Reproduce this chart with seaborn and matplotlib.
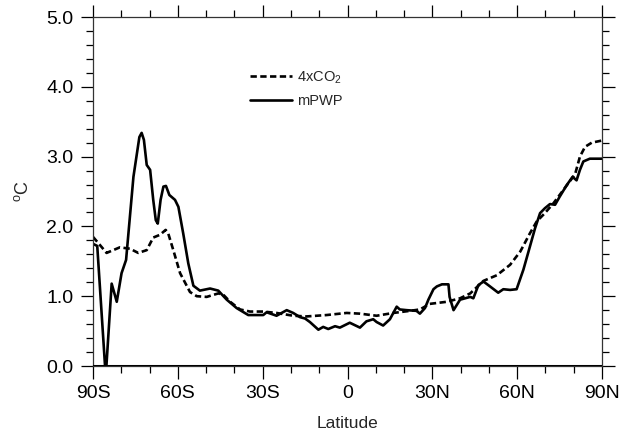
"""
Zonal mean surface temperature change - 4xCO2 vs mPWP
"""

import numpy as np
import pandas as pd
import matplotlib
matplotlib.use("Agg")
import matplotlib.pyplot as plt
from matplotlib.ticker import MultipleLocator
import seaborn as sns

# ==================== DATA ====================

# 4xCO2 (dashed)
co2_lat = [-90, -88.1, -85.2, -80.5, -76.9, -74, -71, -68.7, -66.3, -64.3, -63.4,
           -61.6, -59.2, -55.7, -53.3, -49.8, -45.7, -43.9, -41.5, -38, -34.5,
           -29.8, -25.1, -19.2, -14.5, -7.4, -0.3, 4.4, 10.3, 16.2, 22.1, 25.6,
           29.1, 35.1, 39.8, 43.4, 48.1, 52.8, 57.5, 61.1, 64.5, 66.9, 69.8,
           72.8, 76.3, 80.5, 82.2, 84, 86.4, 90]
co2_val = [1.85, 1.76, 1.62, 1.70, 1.68, 1.62, 1.66, 1.84, 1.88, 1.95, 1.90,
           1.66, 1.33, 1.06, 1.00, 0.99, 1.04, 1.02, 0.92, 0.81, 0.78,
           0.78, 0.76, 0.72, 0.71, 0.73, 0.76, 0.75, 0.72, 0.76, 0.79, 0.81,
           0.89, 0.92, 0.97, 1.04, 1.22, 1.30, 1.45, 1.64, 1.90, 2.07, 2.19,
           2.33, 2.52, 2.75, 3.00, 3.14, 3.20, 3.23]

# mPWP (solid)
pwp_lat = [-90, -88.5, -85.5, -83.4, -81.6, -79.9, -78.3, -75.7, -73.6, -72.8,
           -72, -71, -69.8, -68.7, -67.8, -67.1, -66.1, -65.1, -64.2, -63, -61,
           -59.8, -58.1, -56.3, -54.5, -52.2, -48.6, -45.7, -42.7, -39.2, -35.1,
           -29.8, -28.6, -25.1, -21.5, -19.2, -16.8, -15, -13.3, -10.3, -8.6,
           -6.8, -4.4, -2.7, 0.8, 4.4, 6.7, 9.1, 10.3, 12.6, 15, 17.4, 18.5,
           20.9, 24.4, 25.6, 27.4, 28.6, 30.4, 31.6, 33.4, 35.7, 36.1, 37.5,
           39.8, 43.4, 44.5, 46.3, 48.1, 50.4, 53.3, 55.1, 57.5, 59.8, 62.2,
           64.5, 66.3, 68.1, 69.8, 71.6, 73.4, 75.1, 77.5, 79.6, 81, 82.2, 83.4,
           85.7, 90]
pwp_val = [1.75, 1.72, -0.15, 1.18, 0.92, 1.33, 1.52, 2.71, 3.28, 3.34,
           3.24, 2.88, 2.81, 2.38, 2.09, 2.04, 2.38, 2.57, 2.58, 2.45, 2.38,
           2.28, 1.90, 1.47, 1.15, 1.08, 1.11, 1.08, 0.95, 0.83, 0.73,
           0.73, 0.77, 0.72, 0.80, 0.76, 0.70, 0.68, 0.63, 0.52, 0.56,
           0.53, 0.57, 0.55, 0.62, 0.55, 0.64, 0.67, 0.63, 0.58, 0.67, 0.85, 0.81,
           0.80, 0.79, 0.75, 0.83, 0.95, 1.10, 1.14, 1.17, 1.17, 0.99, 0.80,
           0.95, 0.99, 0.97, 1.16, 1.21, 1.14, 1.05, 1.10, 1.09, 1.10, 1.38,
           1.71, 1.97, 2.19, 2.26, 2.32, 2.31, 2.43, 2.59, 2.71, 2.66, 2.81, 2.93,
           2.97, 2.97]

x_ticks = [-90, -60, -30, 0, 30, 60, 90]
x_tick_labels = ["90S", "60S", "30S", "0", "30N", "60N", "90N"]
y_ticks = [0, 1, 2, 3, 4, 5]

# ==================== PLOTTING ====================

sns.set_style("ticks")
plt.rcParams["font.family"] = ["Liberation Sans", "DejaVu Sans"]
plt.rcParams["mathtext.fontset"] = "custom"
plt.rcParams["mathtext.rm"] = "Liberation Sans"

df_co2 = pd.DataFrame({"lat": co2_lat, "val": co2_val})
df_pwp = pd.DataFrame({"lat": pwp_lat, "val": pwp_val})

fig = plt.figure(figsize=(6.32, 4.36), dpi=100)
ax = fig.add_axes([93 / 632, 70 / 436, 509 / 632, 349 / 436])

sns.lineplot(data=df_co2, x="lat", y="val", ax=ax, color="black",
             linewidth=1.9, label="4xCO$_2$", sort=False)
sns.lineplot(data=df_pwp, x="lat", y="val", ax=ax, color="black",
             linewidth=1.9, label="mPWP", sort=False)
ax.lines[0].set_dashes((2.4, 1.3))

# thick zero line along the bottom
ax.axhline(0, color="black", linewidth=2.2, zorder=5)

ax.set_xlim(-90, 90)
ax.set_ylim(0, 5)
ax.set_xticks(x_ticks)
ax.set_xticklabels(x_tick_labels)
ax.set_yticks(y_ticks)
ax.set_yticklabels([f"{v:.1f}" for v in y_ticks])
ax.xaxis.set_minor_locator(MultipleLocator(10))
ax.yaxis.set_minor_locator(MultipleLocator(0.2))

ax.tick_params(which="both", direction="out", top=True, right=True,
               width=0.9, colors="black", labelsize=14, pad=5)
ax.tick_params(which="major", length=9)
ax.tick_params(which="minor", length=5)
for s in ax.spines.values():
    s.set_linewidth(0.9)
    s.set_color("#333333")

ax.set_xlabel("Latitude", fontsize=12.5, labelpad=10)
ax.set_ylabel("$^{\\mathrm{o}}$C", fontsize=13, labelpad=10)

ax.legend(loc="upper left", bbox_to_anchor=(0.308, 0.85), frameon=False,
          fontsize=10.5, handlelength=2.9, handletextpad=0.35, labelspacing=0.55,
          borderpad=0, borderaxespad=0)

fig.savefig("out.png", dpi=100)
